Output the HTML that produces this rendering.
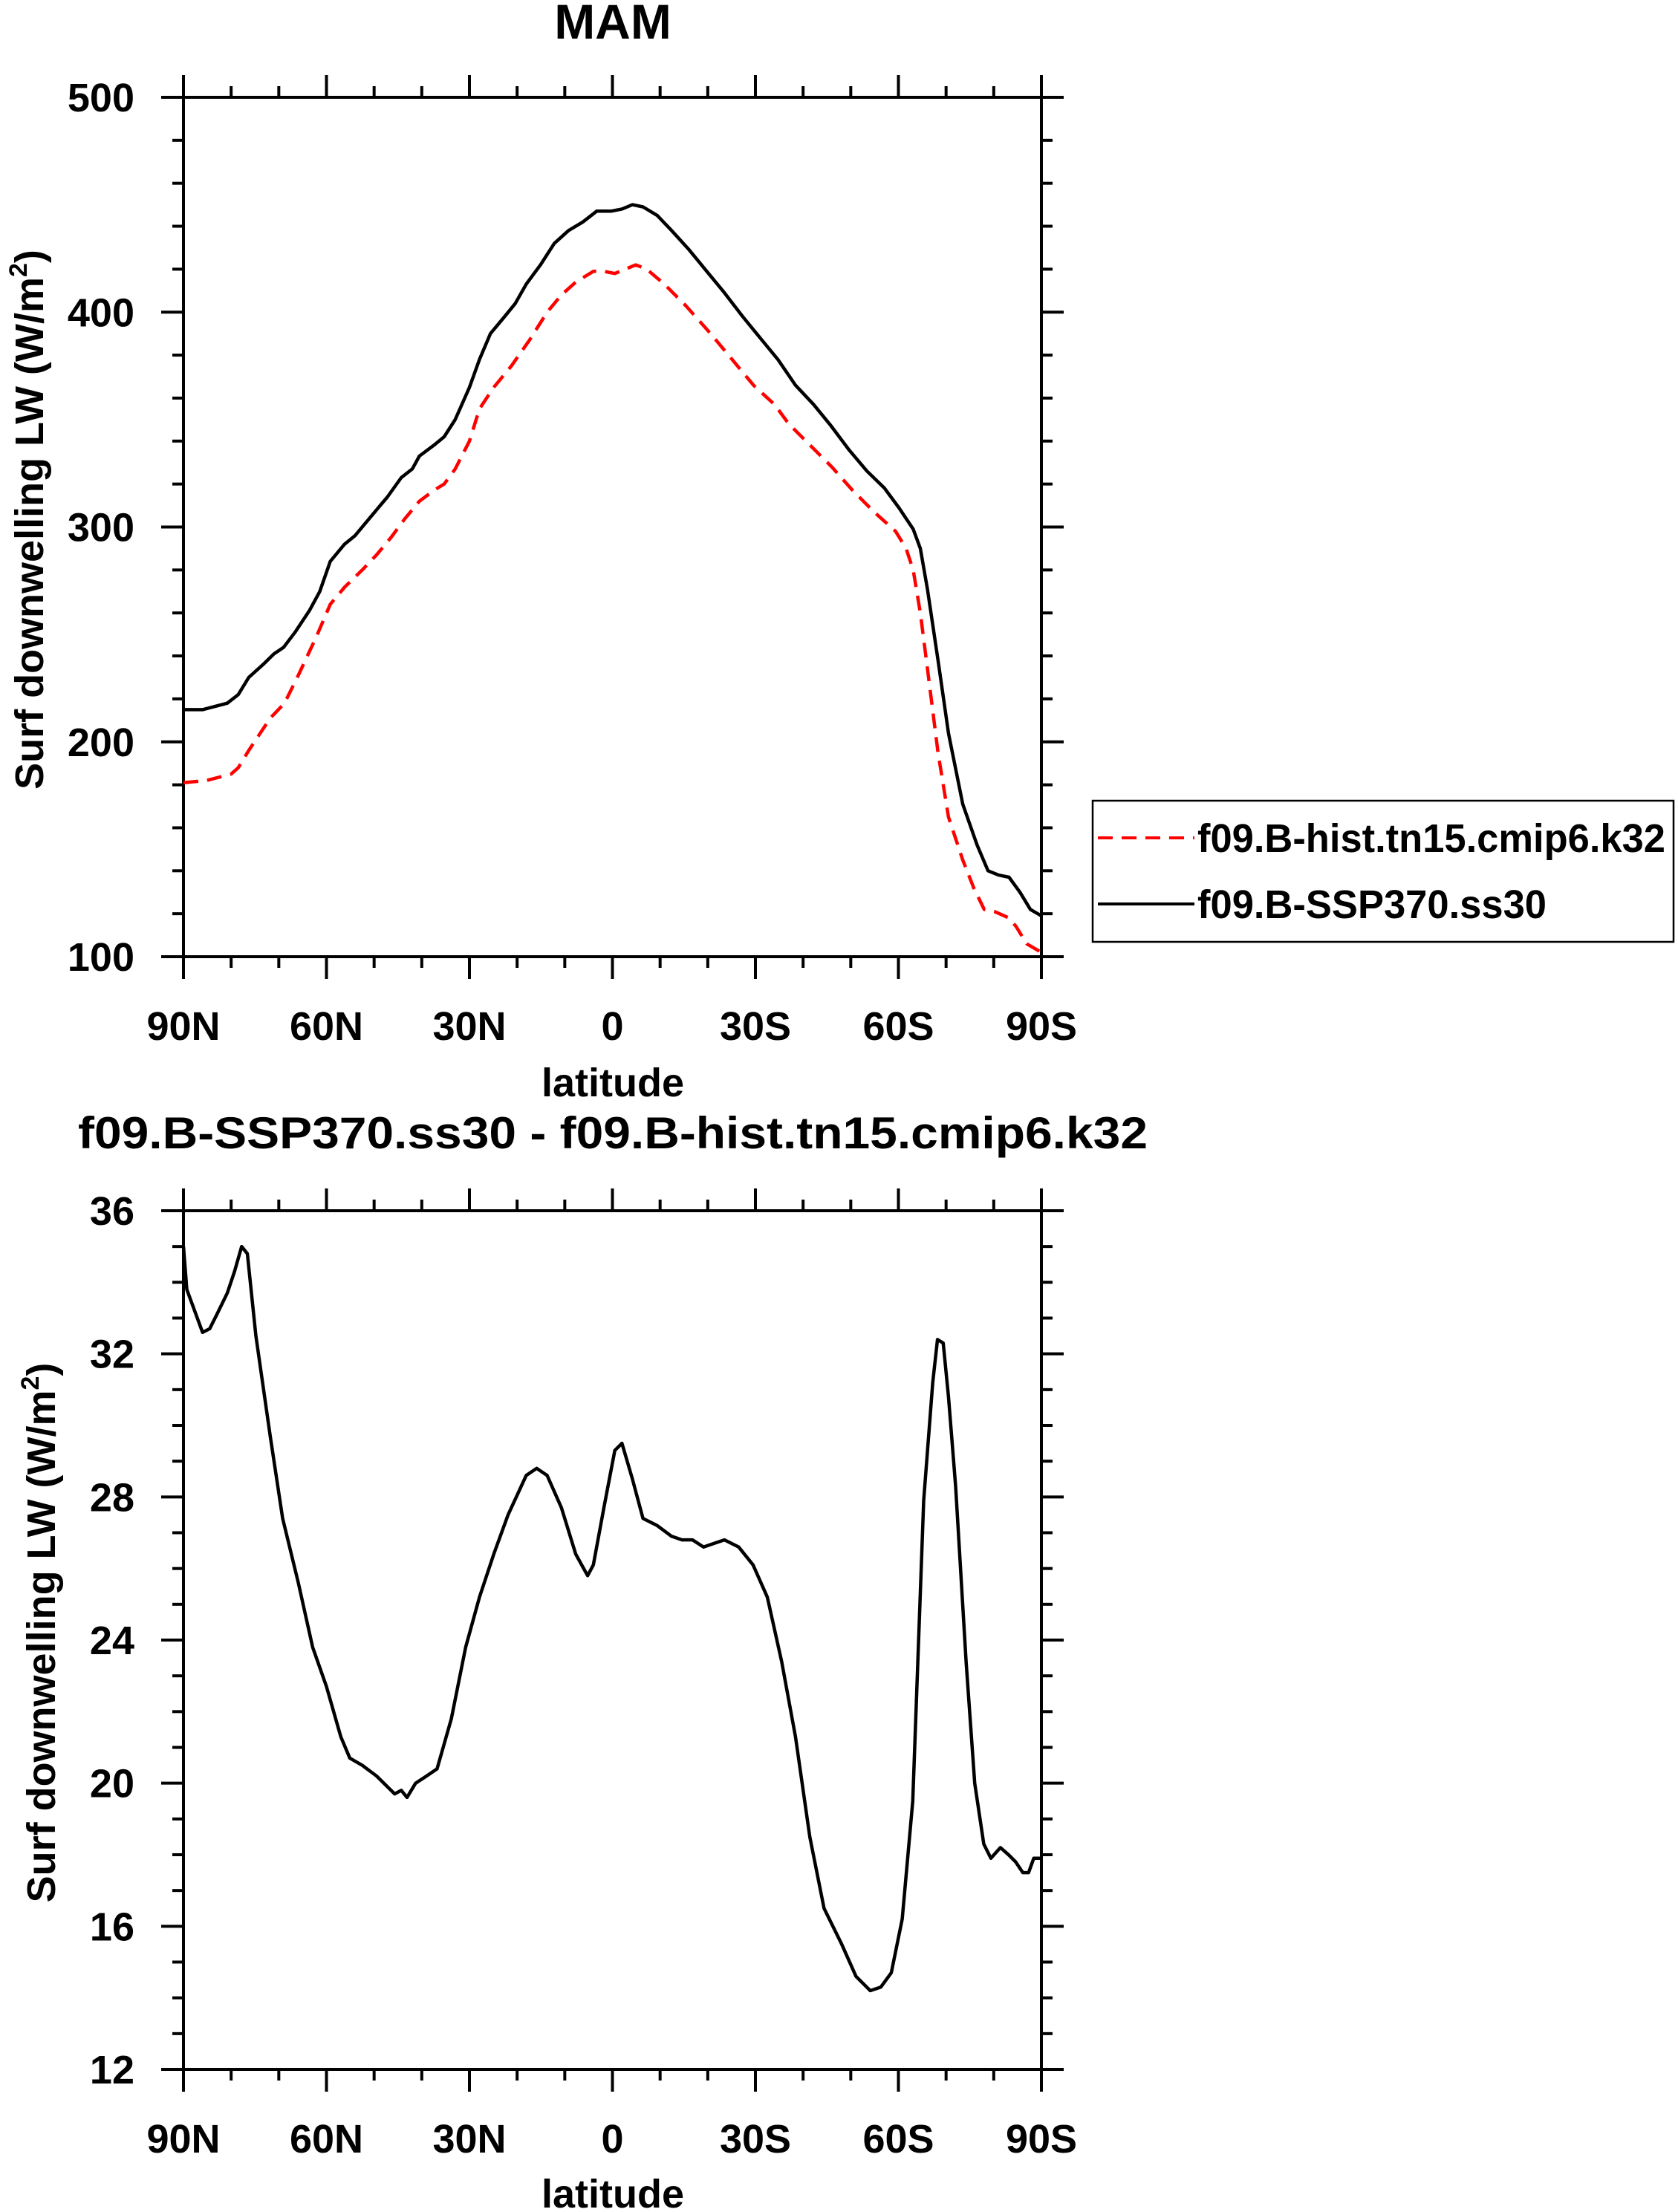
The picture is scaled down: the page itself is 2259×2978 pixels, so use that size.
<!DOCTYPE html>
<html><head><meta charset="utf-8"><style>
html,body{margin:0;padding:0;background:#fff;}
svg{display:block;font-family:"Liberation Sans",Arial,sans-serif;font-weight:bold;}
</style></head><body>
<svg id="fig" width="2259" height="2978" viewBox="0 0 2259 2978" xmlns="http://www.w3.org/2000/svg">
<rect width="2259" height="2978" fill="#fff"/>
<text x="825" y="52" font-size="66" text-anchor="middle">MAM</text>
<text x="825" y="1546" font-size="60" text-anchor="middle" textLength="1440" lengthAdjust="spacingAndGlyphs">f09.B-SSP370.ss30 - f09.B-hist.tn15.cmip6.k32</text>
<g id="top"></g>
<g id="bot"></g>
<g>
<rect x="1471" y="1078" width="782" height="190" fill="#fff" stroke="#000" stroke-width="2.5"/>
<line x1="1478" y1="1128" x2="1608" y2="1128" stroke="#f00" stroke-width="4" stroke-dasharray="20,12"/>
<text x="1612" y="1147" font-size="54" textLength="630" lengthAdjust="spacingAndGlyphs">f09.B-hist.tn15.cmip6.k32</text>
<line x1="1478" y1="1217" x2="1608" y2="1217" stroke="#000" stroke-width="4"/>
<text x="1612" y="1236" font-size="54" textLength="470" lengthAdjust="spacingAndGlyphs">f09.B-SSP370.ss30</text>
</g>
</svg>
<script>
const NS='http://www.w3.org/2000/svg';
const xTickLats=[90,60,30,0,-30,-60,-90];
const xTickLabels=['90N','60N','30N','0','30S','60S','90S'];
const topYTicks=[100,200,300,400,500];
const botYTicks=[12,16,20,24,28,32,36];
const histLat=[90,85.2,80,78.5,76.3,71.8,68.8,65.9,62.1,59.2,56.2,52.5,49.5,46.5,43.5,40.5,37.5,35.3,33,30,27.9,24.9,21.2,17.4,13.7,10.7,7.7,4,1.8,-0.5,-2.7,-4.9,-7.2,-10.9,-15.4,-20.6,-25.1,-29.6,-34,-37,-41.5,-46,-50.4,-54.9,-59.4,-61.6,-63.1,-64.6,-66.1,-68.3,-70.5,-73.5,-75.8,-78,-80.2,-83.2,-84.7,-86.9,-90];
const histVal=[181,182,185,188,196,211,218,231,249,264,272,280,287,295,304,312,317,320,327,340,355,365,375,387,400,408,414,419,419,418,420,422,420,413,403,390,378,366,357,348,338,328,317,307,298,290,280,260,234,195,165,145,132,122,121,118,114,106,102];
const sspLat=[90,86,80.8,78.5,76.3,73.3,71,69,66.6,63.6,61.4,59.2,56.2,54,51,47.2,44.3,42,40.5,37.5,35.3,33,30,27.9,25.6,22.6,20.4,18.1,15.1,12.2,9.2,6.2,3.3,0.3,-2,-4.2,-6.4,-9.4,-12.4,-16.1,-19.8,-23.5,-27.3,-31,-34.7,-38.4,-42.2,-45.9,-49.6,-53.4,-57.1,-60.1,-63.1,-64.6,-66.1,-68.3,-70.5,-73.5,-76.5,-78.8,-81,-83.2,-85.5,-87.7,-90];
const sspVal=[215,215,218,222,230,236,241,244,251,261,270,284,292,296,304,314,323,327,333,338,342,350,365,378,390,398,404,413,422,432,438,442,447,447,448,450,449,445,438,429,419,409,398,388,378,366,357,347,336,326,318,309,299,290,271,238,204,171,152,140,138,137,130,122,119];
const diffLat=[90,89.3,86,84.5,83,80.8,79.3,77.8,76.6,74.8,71.8,69.2,65.9,62.9,60,57,55.1,52.5,49.5,45.7,44.3,43.1,41.3,39,36.8,33.8,30.8,27.9,24.9,21.9,18.1,15.9,13.7,10.7,7.7,5.2,4,1.8,-0.5,-2,-4.2,-6.4,-9.4,-12.4,-14.6,-16.8,-19.1,-21.3,-23.5,-26.5,-29.5,-32.5,-35.5,-38.4,-41.4,-44.4,-48.1,-51.1,-54.1,-56.3,-58.5,-60.8,-63,-65.3,-67.2,-68.2,-69.4,-70.5,-72,-74.2,-76,-77.9,-79.4,-81.4,-83.1,-84.6,-86.1,-87.3,-88.4,-90];
const diffVal=[35.0,33.8,32.6,32.7,33.1,33.7,34.3,35.0,34.8,32.5,29.7,27.4,25.6,23.8,22.7,21.3,20.7,20.5,20.2,19.7,19.8,19.6,20.0,20.2,20.4,21.8,23.8,25.2,26.4,27.5,28.6,28.8,28.6,27.7,26.4,25.8,26.1,27.7,29.3,29.5,28.5,27.4,27.2,26.9,26.8,26.8,26.6,26.7,26.8,26.6,26.1,25.2,23.4,21.3,18.5,16.5,15.5,14.6,14.2,14.3,14.7,16.2,19.5,27.9,31.2,32.4,32.3,30.8,28.3,23.4,20.0,18.3,17.9,18.2,18.0,17.8,17.5,17.5,17.9,17.9];

function mk(tag,attrs,parent){const e=document.createElementNS(NS,tag);for(const k in attrs)e.setAttribute(k,attrs[k]);parent.appendChild(e);return e;}

function panel(g,top,bottom,ymin,ymax,yTicks,yMinorStep,titleX,labelY,latY){
  const L=247,R=1402;
  const xs=lat=>L+(90-lat)/180*(R-L);
  const ys=v=>bottom-(v-ymin)/(ymax-ymin)*(bottom-top);
  mk('rect',{x:L,y:top,width:R-L,height:bottom-top,fill:'none',stroke:'#000','stroke-width':4},g);
  for(let lat=90;lat>=-90;lat-=10){
    const major=lat%30===0,len=major?30:15,x=xs(lat);
    const t1=mk('line',{x1:x,y1:bottom,x2:x,y2:bottom+len,stroke:'#000','stroke-width':4},g);
    
    
    mk('line',{x1:x,y1:top,x2:x,y2:top-len,stroke:'#000','stroke-width':4},g);
  }
  xTickLats.forEach((lat,i)=>{
    const t=mk('text',{x:xs(lat),y:labelY,'font-size':54,'text-anchor':'middle'},g);
    t.textContent=xTickLabels[i];
    
    
  });
  for(let v=ymin;v<=ymax+1e-9;v+=yMinorStep){
    const major=yTicks.some(t=>Math.abs(t-v)<1e-9),len=major?30:15,y=ys(v);
    mk('line',{x1:L,y1:y,x2:L-len,y2:y,stroke:'#000','stroke-width':4},g);
    mk('line',{x1:R,y1:y,x2:R+len,y2:y,stroke:'#000','stroke-width':4},g);
  }
  yTicks.forEach(v=>{
    const t=mk('text',{x:181,y:ys(v)+19,'font-size':54,'text-anchor':'end'},g);
    t.textContent=String(v);
    
    
  });
  const xl=mk('text',{x:825,y:latY,'font-size':54,'text-anchor':'middle'},g);
  xl.textContent='latitude';
  
  
  const cy=(top+bottom)/2-10;
  const yt=mk('text',{transform:`translate(${titleX},${cy}) rotate(-90)`,'font-size':54,'text-anchor':'middle'},g);
  
  
  yt.innerHTML='Surf downwelling LW (W/m<tspan font-size="34" dy="-22">2</tspan><tspan dy="22">)</tspan>';
  return {xs,ys};
}
function line(g,sc,lats,vals,color,dash,name){
  const d=lats.map((l,i)=>(i?'L':'M')+sc.xs(l).toFixed(1)+','+sc.ys(vals[i]).toFixed(1)).join('');
  const p=mk('path',{d:d,fill:'none',stroke:color,'stroke-width':4.5,'stroke-linejoin':'round'},g);
  if(dash)p.setAttribute('stroke-dasharray',dash);
  
  
}
const gt=document.getElementById('top'),gb=document.getElementById('bot');
const st=panel(gt,131,1288,100,500,topYTicks,20,58,1400,1476);
line(gt,st,histLat,histVal,'#f00','20,12','hist-line');
line(gt,st,sspLat,sspVal,'#000',null,'ssp370-line');
const sb=panel(gb,1630,2786,12,36,botYTicks,1,74,2898,2972);
line(gb,sb,diffLat,diffVal,'#000',null,'difference-line');
</script>
</body></html>
